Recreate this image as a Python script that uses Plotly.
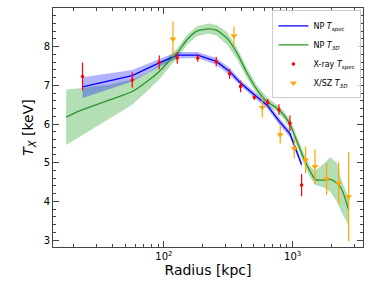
import plotly.graph_objects as go

# X-ray T_spec data
xray_r = [23.3, 56.7, 92, 127, 183, 255, 324, 394, 504, 640, 783, 953, 1175]
xray_T = [7.23, 7.14, 7.59, 7.71, 7.71, 7.61, 7.30, 6.97, 6.69, 6.56, 6.37, 6.02, 4.42]
xray_err = [0.36, 0.20, 0.18, 0.15, 0.10, 0.12, 0.13, 0.15, 0.07, 0.09, 0.14, 0.20, 0.29]

# X/SZ T_3D data
xsz_r = [117.5, 350, 581, 801, 1030, 1262, 1493, 1837, 2278, 2725]
xsz_T = [8.20, 8.28, 6.43, 5.72, 5.37, 5.07, 4.90, 4.58, 4.47, 4.12]
xsz_err = [0.45, 0.25, 0.27, 0.23, 0.26, 0.35, 0.45, 0.41, 0.54, 1.15]

# NP T_spec model
np_spec_r = [23.3, 56.7, 92, 127, 183, 255, 324, 394, 504, 640, 783, 953, 1175]
np_spec_T = [6.96, 7.25, 7.58, 7.78, 7.78, 7.62, 7.36, 7.06, 6.76, 6.47, 6.08, 5.75, 4.95]
np_spec_lo = [6.67, 7.10, 7.48, 7.70, 7.70, 7.53, 7.27, 6.98, 6.68, 6.39, 5.99, 5.66, 4.87]
np_spec_hi = [7.21, 7.40, 7.68, 7.86, 7.86, 7.71, 7.45, 7.14, 6.84, 6.55, 6.17, 5.84, 5.03]

# NP T_3D model
np_3d_r = [17.4, 23.3, 38.3, 56.7, 73.8, 92, 112, 127, 151, 180, 222, 258, 309, 369,
           442, 528, 632, 755, 851, 959, 1081, 1218, 1372, 1500, 1741, 1963, 2212, 2418, 2722]
np_3d_T = [6.18, 6.37, 6.63, 6.84, 7.10, 7.36, 7.66, 7.84, 8.18, 8.40, 8.46, 8.42, 8.22, 7.84,
           7.32, 6.89, 6.58, 6.41, 6.24, 5.98, 5.55, 5.12, 4.77, 4.57, 4.55, 4.57, 4.47, 4.30, 3.78]
np_3d_hi = [6.89, 6.93, 7.02, 7.15, 7.32, 7.53, 7.78, 7.96, 8.30, 8.53, 8.60, 8.56, 8.38, 7.98,
            7.45, 7.00, 6.69, 6.50, 6.34, 6.10, 5.68, 5.26, 4.90, 4.80, 4.97, 5.14, 4.99, 4.51, 4.12]
np_3d_lo = [5.46, 5.72, 6.15, 6.50, 6.85, 7.15, 7.50, 7.71, 8.05, 8.27, 8.34, 8.28, 8.05, 7.68,
            7.19, 6.78, 6.47, 6.32, 6.13, 5.86, 5.42, 4.98, 4.62, 4.42, 4.36, 4.25, 3.99, 3.69, 3.39]

x_tickvals = [100, 1000]
x_ticktext = ["10<sup>2</sup>", "10<sup>3</sup>"]
y_tickvals = [3, 4, 5, 6, 7, 8]

blue = "#0000ff"
green = "#2a952a"

fig = go.Figure()

# Green band
fig.add_trace(go.Scatter(x=np_3d_r, y=np_3d_hi, mode="lines", line=dict(width=0),
                         showlegend=False, hoverinfo="skip"))
fig.add_trace(go.Scatter(x=np_3d_r, y=np_3d_lo, mode="lines", line=dict(width=0),
                         fill="tonexty", fillcolor="rgba(40,160,40,0.35)",
                         showlegend=False, hoverinfo="skip"))
# Blue band
fig.add_trace(go.Scatter(x=np_spec_r, y=np_spec_hi, mode="lines", line=dict(width=0),
                         showlegend=False, hoverinfo="skip"))
fig.add_trace(go.Scatter(x=np_spec_r, y=np_spec_lo, mode="lines", line=dict(width=0),
                         fill="tonexty", fillcolor="rgba(0,0,255,0.3)",
                         showlegend=False, hoverinfo="skip"))

fig.add_trace(go.Scatter(x=np_spec_r, y=np_spec_T, mode="lines",
                         line=dict(color=blue, width=1.3),
                         name="NP <i>T</i><sub><i>spec</i></sub>"))
fig.add_trace(go.Scatter(x=np_3d_r, y=np_3d_T, mode="lines",
                         line=dict(color=green, width=1.3, shape="spline", smoothing=0.6),
                         name="NP <i>T</i><sub><i>3D</i></sub>"))
fig.add_trace(go.Scatter(x=xray_r, y=xray_T, mode="markers",
                         marker=dict(color="red", size=3.5),
                         error_y=dict(type="data", array=xray_err, color="red",
                                      thickness=1.2, width=0),
                         name="X-ray <i>T</i><sub><i>spec</i></sub>"))
fig.add_trace(go.Scatter(x=xsz_r, y=xsz_T, mode="markers",
                         marker=dict(color="orange", size=6, symbol="triangle-down"),
                         error_y=dict(type="data", array=xsz_err, color="orange",
                                      thickness=1.2, width=0),
                         name="X/SZ <i>T</i><sub><i>3D</i></sub>"))

axis_common = dict(showline=True, linecolor="#444", linewidth=1, mirror="ticks",
                   ticks="inside", tickcolor="#444", showgrid=False, zeroline=False,
                   automargin=False,
                   tickfont=dict(family="DejaVu Sans", size=10, color="black"))

fig.update_layout(
    width=374, height=288,
    margin=dict(l=53, r=11, t=8, b=41),
    paper_bgcolor="white", plot_bgcolor="white",
    font=dict(family="DejaVu Sans", color="black"),
    xaxis=dict(type="log", range=[1.138, 3.547], tickmode="array",
               tickvals=x_tickvals, ticktext=x_ticktext, ticklen=6,
               minor=dict(dtick="D1", ticks="inside", ticklen=3, tickcolor="#444"),
               title=dict(text="Radius [kpc]", font=dict(size=14), standoff=2),
               **axis_common),
    yaxis=dict(range=[2.82, 9.0], tickmode="array", tickvals=y_tickvals, ticklen=6,
               minor=dict(dtick=0.2, ticks="inside", ticklen=3, tickcolor="#444"),
               title=dict(text="<i>T</i><sub><i>X</i></sub> [keV]", font=dict(size=14),
                          standoff=6),
               **axis_common),
    legend=dict(x=0.995, y=0.99, xanchor="right", yanchor="top", traceorder="normal",
                bgcolor="rgba(255,255,255,0.8)", bordercolor="#ccc", borderwidth=1,
                font=dict(size=8, family="DejaVu Sans"), tracegroupgap=0,
                itemwidth=30),
)

fig.write_html("out.html", config={"displayModeBar": False},
               post_script="document.body.style.margin='0px';")
